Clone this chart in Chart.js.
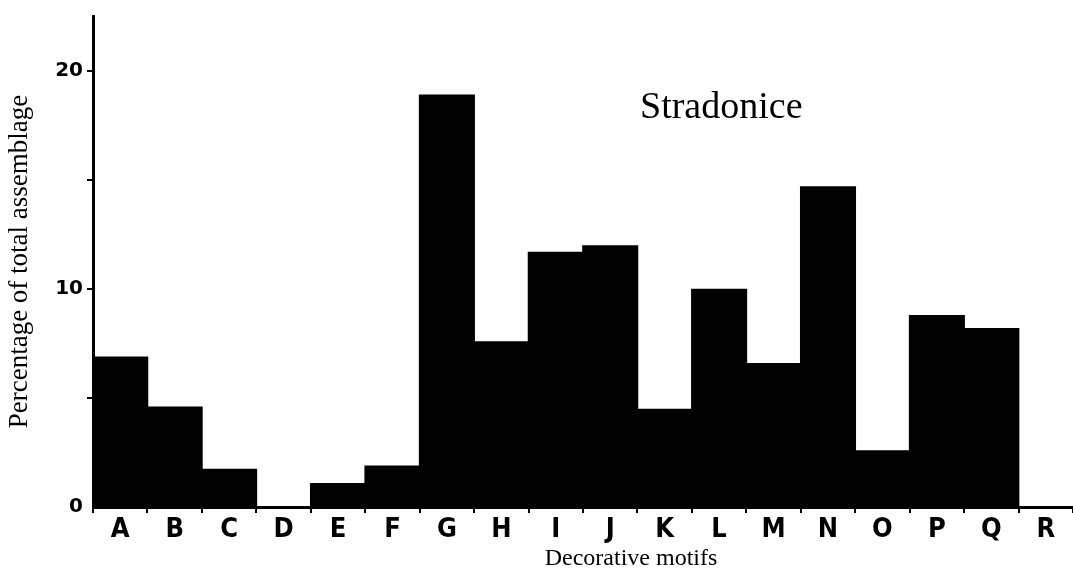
<!DOCTYPE html>
<html>
<head>
<meta charset="utf-8">
<script src="https://cdn.jsdelivr.net/npm/chart.js@4.4.1/dist/chart.umd.min.js"></script>
<style>
  html, body { margin: 0; padding: 0; background: #fff; }
  #c { display: block; }
</style>
</head>
<body>
<canvas id="c" width="1073" height="574"></canvas>
<script>
// Motif categories and their share of the Stradonice assemblage (%)
const motifs = ['A','B','C','D','E','F','G','H','I','J','K','L','M','N','O','P','Q','R'];
const percentages = [6.9, 4.6, 1.75, 0, 1.1, 1.9, 18.9, 7.6, 11.7, 12.0, 4.5, 10.0, 6.6, 14.7, 2.6, 8.8, 8.2, 0];

// Y axis ticks: marks every 5, labels only at 0, 10, 20
const yTickValues = [0, 5, 10, 15, 20];
const yTickLabels = { 0: '0', 10: '10', 20: '20' };

const siteName = 'Stradonice';
const xAxisTitle = 'Decorative motifs';
const yAxisTitle = 'Percentage of total assemblage';

const serif = '"Liberation Serif", "Times New Roman", serif';

// Site name and x-axis caption drawn as free text on the canvas
const captions = {
  id: 'captions',
  afterDraw(chart) {
    const { ctx, chartArea } = chart;
    ctx.save();
    ctx.fillStyle = '#000';
    ctx.textBaseline = 'alphabetic';
    ctx.textAlign = 'left';
    ctx.font = '38px ' + serif;
    ctx.fillText(siteName, chartArea.left + 547, 118);
    ctx.textAlign = 'center';
    ctx.font = '24px ' + serif;
    ctx.fillText(xAxisTitle, chartArea.left + 538, 565);
    ctx.restore();
  }
};

new Chart(document.getElementById('c'), {
  type: 'bar',
  data: {
    labels: motifs,
    datasets: [{
      data: percentages,
      backgroundColor: '#000',
      borderWidth: 0,
      barPercentage: 1.03,
      categoryPercentage: 1
    }]
  },
  options: {
    responsive: false,
    devicePixelRatio: 1,
    animation: false,
    layout: { padding: { top: 10, left: 0, right: 0, bottom: 0 } },
    plugins: {
      legend: { display: false },
      tooltip: { enabled: false }
    },
    scales: {
      x: {
        type: 'category',
        offset: true,
        border: { display: true, color: '#000', width: 3 },
        grid: {
          offset: true,
          drawOnChartArea: false,
          drawTicks: true,
          tickLength: 6,
          color: '#000',
          lineWidth: 2
        },
        ticks: {
          color: '#000',
          autoSkip: false,
          maxRotation: 0,
          padding: 1,
          font: { family: '"Liberation Sans Narrow", "DejaVu Sans Condensed", "Liberation Sans", sans-serif', weight: 'bold', size: 27 }
        },
        afterFit(scale) { scale.height = 67; }
      },
      y: {
        min: 0,
        max: 22.5,
        afterBuildTicks(scale) {
          scale.ticks = yTickValues.map(v => ({ value: v }));
        },
        border: { display: true, color: '#000', width: 3 },
        grid: {
          drawOnChartArea: false,
          drawTicks: true,
          tickLength: 6,
          lineWidth: 2,
          color: ctx => (ctx.tick && ctx.tick.value === 0) ? 'rgba(0,0,0,0)' : '#000'
        },
        ticks: {
          color: '#000',
          padding: 4,
          callback: v => (yTickLabels[v] !== undefined ? yTickLabels[v] : ''),
          font: { family: '"DejaVu Sans", "Liberation Sans", sans-serif', weight: 'bold', size: 20 }
        },
        title: {
          display: true,
          text: yAxisTitle,
          color: '#000',
          padding: { top: 4, bottom: 0 },
          font: { family: serif, size: 27 }
        },
        afterFit(scale) { scale.width = 93; }
      }
    }
  },
  plugins: [captions]
});
</script>
</body>
</html>
